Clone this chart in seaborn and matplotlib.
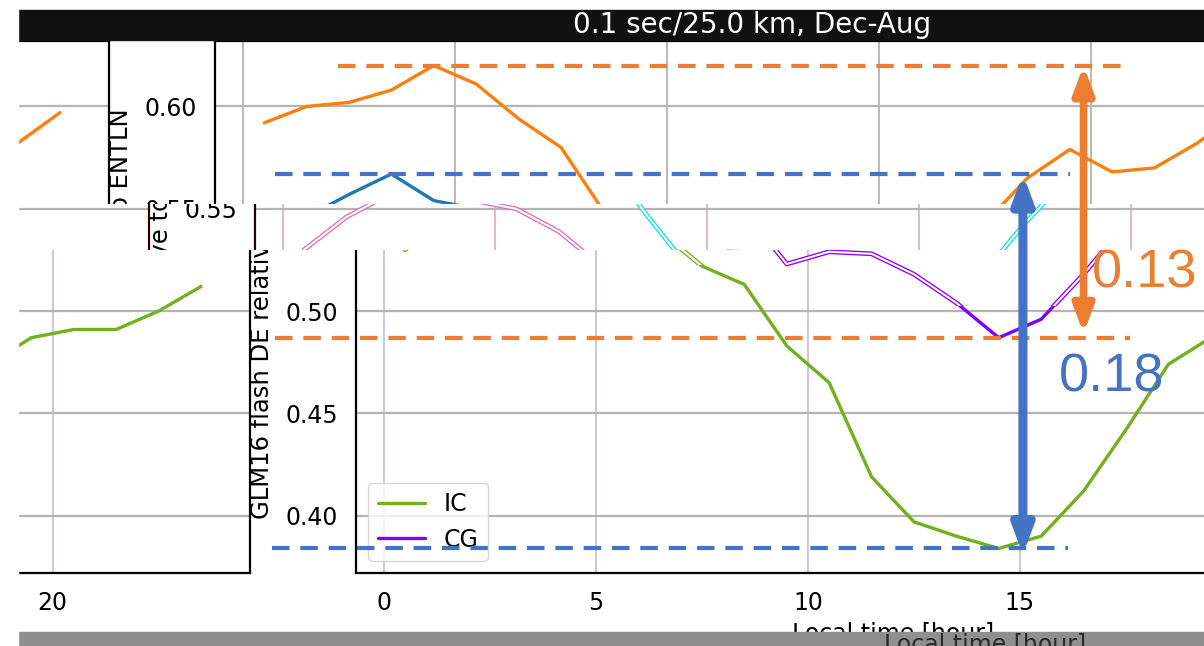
import numpy as np
import matplotlib.pyplot as plt
import seaborn as sns
from matplotlib.patches import Rectangle
from matplotlib.text import Text
from matplotlib.transforms import Bbox, TransformedBbox
from matplotlib.ticker import FormatStrFormatter

# valores (média por hora local)
hora = [0.5, 1.5, 2.5, 3.5, 4.5, 5.5, 6.5, 7.5, 8.5, 9.5, 10.5, 11.5,
        12.5, 13.5, 14.5, 15.5, 16.5, 17.5, 18.5, 19.5, 20.5, 21.5, 22.5, 23.5]
ic = [0.530, 0.546, 0.557, 0.567, 0.554, 0.550, 0.539, 0.522, 0.513, 0.483,
      0.465, 0.419, 0.397, 0.390, 0.384, 0.390, 0.412, 0.442, 0.474, 0.487,
      0.491, 0.491, 0.500, 0.512]
cg = [0.592, 0.600, 0.602, 0.608, 0.620, 0.611, 0.594, 0.580, 0.549, 0.523,
      0.529, 0.528, 0.518, 0.504, 0.487, 0.496, 0.518, 0.543, 0.565, 0.579,
      0.568, 0.570, 0.582, 0.597]
xticks = [0, 5, 10, 15, 20]
yticks = [0.40, 0.45, 0.50, 0.55, 0.60]
titulo = "0.1 sec/25.0 km, Dec-Aug"
ylabel = "GLM16 flash DE relative to ENTLN"
xlabel = "Local time [hour]"

sns.set_style("white")
plt.rcParams['font.family'] = ['DejaVu Sans']
plt.rcParams['text.color'] = 'black'
plt.rcParams['axes.labelcolor'] = 'black'
plt.rcParams['xtick.color'] = 'black'
plt.rcParams['ytick.color'] = 'black'

L, A = 1204, 646
fig = plt.figure(figsize=(L / 100, A / 100), dpi=100)

ax_esq, ax_larg, ax_topo, ax_base = 356.4, 1072.7, 41, 573
periodo = 1179.4
laranja = '#ed7d31'
azul = '#4472c4'


def eixo(desloc):
    return fig.add_axes([(ax_esq + desloc) / L, 1 - ax_base / A,
                         ax_larg / L, (ax_base - ax_topo) / A])


def linha(ax, y, cor, contorno, rotulo):
    if contorno:
        sns.lineplot(x=hora, y=y, ax=ax, color=cor, linewidth=3.4,
                     errorbar=None, legend=False)
        sns.lineplot(x=hora, y=y, ax=ax, color='white', linewidth=1.5,
                     errorbar=None, legend=False)
    else:
        sns.lineplot(x=hora, y=y, ax=ax, color=cor, linewidth=2.4,
                     errorbar=None, legend=False, label=rotulo)


def monta(ax, banda, principal):
    linha(ax, ic, *banda['ic'], 'IC')
    linha(ax, cg, *banda['cg'], 'CG')
    ax.set_xlim(-0.65, 24.65)
    ax.set_ylim(0.372, 0.632)
    ax.set_xticks(xticks)
    ax.set_yticks(yticks)
    ax.yaxis.set_major_formatter(FormatStrFormatter('%.2f'))
    ax.grid(axis='y', color='#b4b4b4', linewidth=1.6)
    ax.grid(axis='x', color=banda['grade'], linewidth=1.4)
    ax.tick_params(labelsize=17, length=6, width=1.4, pad=7)
    for s in ax.spines.values():
        s.set_linewidth(1.6)
        s.set_color(banda['spine'])
    ax.set_ylabel(ylabel, fontsize=17.5)
    ax.yaxis.set_label_coords(-0.0765, 0.487)
    if principal and banda.get('xlabel'):
        ax.set_xlabel(xlabel, fontsize=17)
    if principal and banda.get('legenda'):
        ax.legend(loc='lower left', fontsize=17)


# faixas de linhas da imagem, cada uma deslocada na horizontal
bandas = [
    dict(linhas=(40, 204), desloc=-141.0, ic=('#1f77b4', False), cg=('#ff7f0e', False),
         grade='#b8b8b8', spine='black'),
    dict(linhas=(204, 250), desloc=-101.0, ic=('#e070b0', True), cg=('#10e8d8', True),
         grade='#e6b8c8', spine='#300000'),
    dict(linhas=(250, 265), desloc=0.0, ic=('#72b01d', True), cg=('#8f00ff', True),
         grade='#c8c8e0', spine='black', sem_texto=True),
    dict(linhas=(265, 306), desloc=0.0, ic=('#72b01d', False), cg=('#8f00ff', True),
         grade='#c8c8e0', spine='black', sem_texto=True),
    dict(linhas=(306, 646), desloc=0.0, ic=('#72b01d', False), cg=('#8000ff', False),
         grade='#c8c8e0', spine='black', legenda=True, xlabel=True, textos=(250, 646)),
]

eixos = []
for b in bandas:
    for k, d in enumerate([b['desloc'], b['desloc'] - periodo]):
        ax = eixo(d)
        monta(ax, b, k == 0)
        eixos.append((ax, b))

fig.canvas.draw()
renderer = fig.canvas.get_renderer()


def caixa_linhas(y0, y1):
    return TransformedBbox(Bbox([[0, 1 - y1 / A], [1, 1 - y0 / A]]), fig.transFigure)


for ax, b in eixos:
    y0, y1 = b['linhas']
    caixa = caixa_linhas(y0, y1)
    ty0, ty1 = b.get('textos', b['linhas'])
    caixa_txt = caixa_linhas(ty0, ty1)
    for a in ax.findobj():
        if isinstance(a, Text):
            bb = a.get_window_extent(renderer)
            fora = (bb.x1 < 18 or bb.x0 > L or bb.y1 < A - ty1 or bb.y0 > A - ty0)
            if b.get('sem_texto') or fora or a.get_text() == '':
                a.set_visible(False)
            a.set_clip_box(caixa_txt)
        else:
            a.set_clip_box(caixa)
        a.set_clip_on(True)

# anotações por cima (setas e linhas tracejadas)
ov = eixo(0.0)
ov.set_xlim(-0.65, 24.65)
ov.set_ylim(0.372, 0.632)
ov.axis('off')
ov.patch.set_visible(False)
tracejado = (0, (4.2, 2.6))
ov.hlines(max(cg), -1.08, 17.6, colors=laranja, linestyles=tracejado, linewidth=3, clip_on=False)
ov.hlines(max(ic), -2.57, 16.18, colors=azul, linestyles=tracejado, linewidth=3, clip_on=False)
ov.hlines(min(cg), -2.57, 17.6, colors=laranja, linestyles=tracejado, linewidth=3, clip_on=False)
ov.hlines(min(ic), -2.64, 16.13, colors=azul, linestyles=tracejado, linewidth=3, clip_on=False)

ov.annotate('', xy=(15.07, min(ic) - 0.003), xytext=(15.07, max(ic)),
            arrowprops=dict(arrowstyle='<|-|>,head_length=0.8,head_width=0.3',
                            color=azul, lw=6.5, shrinkA=0, shrinkB=0,
                            mutation_scale=20), annotation_clip=False)
ov.annotate('', xy=(16.5, min(cg) + 0.002), xytext=(16.5, max(cg)),
            arrowprops=dict(arrowstyle='<|-|>,head_length=0.8,head_width=0.3',
                            color=laranja, lw=5.5, shrinkA=0, shrinkB=0,
                            mutation_scale=20), annotation_clip=False)
ov.text(16.7, 0.5117, f"{max(cg) - min(cg):.2f}", color=laranja, fontsize=39,
        family='Liberation Sans', ha='left', va='baseline', clip_on=False)
ov.text(15.92, 0.4605, f"{max(ic) - min(ic):.2f}", color=azul, fontsize=39,
        family='Liberation Sans', ha='left', va='baseline', clip_on=False)

# faixa preta do título e faixa cinza de baixo
fig.add_artist(Rectangle((18 / L, 1 - 40 / A), 1 - 18 / L, 30 / A,
                         transform=fig.transFigure, color='#111111', zorder=5))
fig.text(752 / L, 1 - 25 / A, titulo, color='white', fontsize=20,
         ha='center', va='center', zorder=6)
fig.add_artist(Rectangle((18 / L, 0), 1 - 18 / L, 14 / A,
                         transform=fig.transFigure, color='#8f8f8f', zorder=5))
fantasma = fig.text(985 / L, 1 - 632 / A, xlabel, color='#2a2a2a', fontsize=17,
                    ha='center', va='top', zorder=6)
fantasma.set_clip_box(TransformedBbox(Bbox([[18 / L, 0], [1, 14 / A]]), fig.transFigure))
fantasma.set_clip_on(True)
fig.add_artist(Rectangle((0, 0), 18 / L, 1, transform=fig.transFigure,
                         color='white', zorder=7))

fig.savefig('out.png', dpi=100)
